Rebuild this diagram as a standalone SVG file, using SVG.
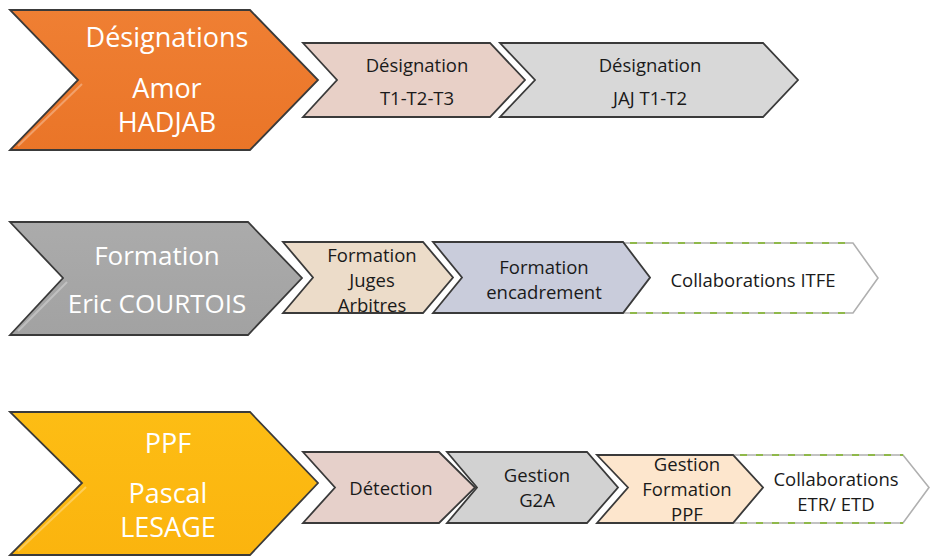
<svg xmlns="http://www.w3.org/2000/svg" width="930" height="560" viewBox="0 0 930 560">
<defs>
<style>
.big{font-family:"Open Sans","Liberation Sans",sans-serif;font-size:27px;fill:#ffffff;text-anchor:middle}
.big2{font-family:"Open Sans","Liberation Sans",sans-serif;font-size:26px;fill:#ffffff;text-anchor:middle}
.sm{font-family:"Open Sans","Liberation Sans",sans-serif;font-size:18.5px;fill:#1a1a1a;text-anchor:middle}
.shape{stroke:#3a3a3a;stroke-width:1.8;stroke-linejoin:miter}
.hl{fill:none;stroke:#ffffff;stroke-opacity:0.3;stroke-width:2}
.open{fill:#ffffff;stroke:#b0b0b0;stroke-width:1.6}
.dash{fill:none;stroke:#8fb84a;stroke-width:2;stroke-dasharray:7 9}
</style>
<linearGradient id="gOrange" x1="0" y1="0" x2="0" y2="1">
<stop offset="0" stop-color="#ef7f33"/><stop offset="1" stop-color="#ea7528"/>
</linearGradient>
<linearGradient id="gYellow" x1="0" y1="0" x2="0" y2="1">
<stop offset="0" stop-color="#fdbd14"/><stop offset="1" stop-color="#fbb40e"/>
</linearGradient>
<linearGradient id="gGray" x1="0" y1="0" x2="0" y2="1">
<stop offset="0" stop-color="#ababab"/><stop offset="1" stop-color="#a2a2a2"/>
</linearGradient>
</defs>

<!-- Row 1 -->
<g id="designations">
<polygon class="shape" fill="url(#gOrange)" points="10,10 250,10 318,80 250,150 10,150 78,80"/>
<polyline class="hl" points="82,84 18,146"/>
<text class="big" x="167" y="47">Désignations</text>
<text class="big" x="167" y="98">Amor</text>
<text class="big" x="167" y="132">HADJAB</text>
</g>
<g id="designation-t1t2t3">
<polygon class="shape" fill="#e8d0c7" points="303,43 490,43 525,80 490,117 303,117 337,80"/>
<text class="sm" x="417" y="72">Désignation</text>
<text class="sm" x="417" y="105">T1-T2-T3</text>
</g>
<g id="designation-jaj">
<polygon class="shape" fill="#d8d8d8" points="500,43 763,43 798,80 763,117 500,117 535,80"/>
<text class="sm" x="650" y="72">Désignation</text>
<text class="sm" x="650" y="105">JAJ T1-T2</text>
</g>

<!-- Row 2 -->
<g id="formation">
<polygon class="shape" fill="url(#gGray)" points="10,222 248,222 302,278 248,335 10,335 63,278"/>
<polyline class="hl" points="67,282 18,331"/>
<text class="big2" x="157" y="265">Formation</text>
<text class="big2" x="157" y="313">Eric COURTOIS</text>
</g>
<g id="formation-juges">
<polygon class="shape" fill="#ecdcc9" points="283,242 423,242 453,277.5 423,313 283,313 313,277.5"/>
<text class="sm" x="372" y="262">Formation</text>
<text class="sm" x="372" y="287">Juges</text>
<text class="sm" x="372" y="312">Arbitres</text>
</g>
<g id="collaborations-itfe">
<polygon class="open" points="623,243 853,243 878,278 853,313 623,313 650,278"/>
<line class="dash" x1="630" y1="243" x2="853" y2="243"/>
<line class="dash" x1="630" y1="313" x2="853" y2="313"/>
<text class="sm" x="753" y="287">Collaborations ITFE</text>
</g>
<g id="formation-encadrement">
<polygon class="shape" fill="#c9ccdb" points="433,242 623,242 650,277.5 623,313 433,313 462,277.5"/>
<text class="sm" x="544" y="274">Formation</text>
<text class="sm" x="544" y="299">encadrement</text>
</g>

<!-- Row 3 -->
<g id="ppf">
<polygon class="shape" fill="url(#gYellow)" points="10,412 250,412 318,483 250,555 10,555 82,483"/>
<polyline class="hl" points="86,487 18,551"/>
<text class="big" x="168" y="453">PPF</text>
<text class="big" x="168" y="503">Pascal</text>
<text class="big" x="168" y="537">LESAGE</text>
</g>
<g id="detection">
<polygon class="shape" fill="#e6d0ca" points="303,452 439,452 475,487.5 439,523 303,523 335,487.5"/>
<text class="sm" x="391" y="495">Détection</text>
</g>
<g id="gestion-g2a">
<polygon class="shape" fill="#d2d2d2" points="447,452 587,452 618,487.5 587,523 447,523 477,487.5"/>
<text class="sm" x="537" y="482">Gestion</text>
<text class="sm" x="537" y="507">G2A</text>
</g>
<g id="collaborations-etr">
<polygon class="open" points="733,455 903,455 929,487.5 903,523 733,523 763,487.5"/>
<line class="dash" x1="740" y1="455" x2="903" y2="455"/>
<line class="dash" x1="740" y1="523" x2="903" y2="523"/>
<text class="sm" x="836" y="486">Collaborations</text>
<text class="sm" x="836" y="511">ETR/ ETD</text>
</g>
<g id="gestion-formation-ppf">
<polygon class="shape" fill="#fde6cd" points="597,455 733,455 763,487.5 733,523 597,523 628,487.5"/>
<text class="sm" x="687" y="471">Gestion</text>
<text class="sm" x="687" y="496">Formation</text>
<text class="sm" x="687" y="521">PPF</text>
</g>
</svg>
